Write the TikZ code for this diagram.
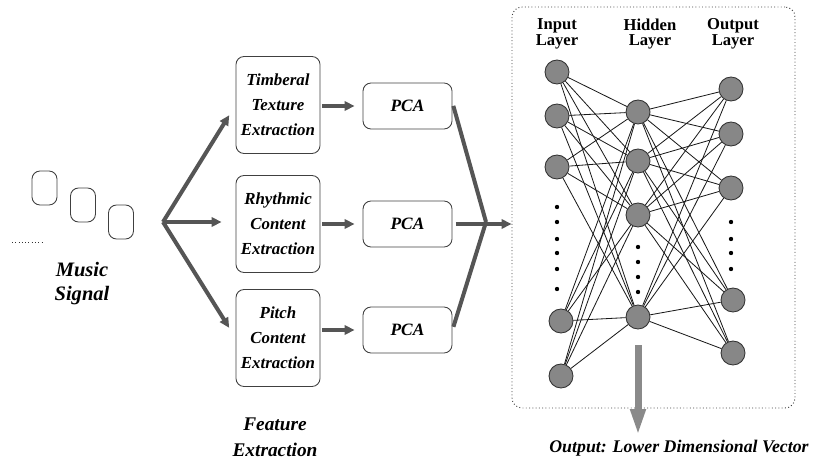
\documentclass[tikz,border=0pt]{standalone}
\usepackage{fontspec}
\setmainfont{Liberation Serif}
\usetikzlibrary{arrows.meta}
\definecolor{arrowgray}{HTML}{555555}
\definecolor{nodegray}{HTML}{878787}
\definecolor{outgray}{HTML}{8A8A8A}
\begin{document}
\begin{tikzpicture}[x=0.3mm,y=-0.3mm,
    frame/.style={draw=black!75,line width=0.75pt,rounded corners=2.4mm,minimum width=7.5mm,minimum height=10.2mm,inner sep=0pt},
    featbox/.style={draw=black!75,line width=0.75pt,rounded corners=2.4mm,minimum width=25.2mm,minimum height=29.1mm,inner sep=0pt,
        align=center,font=\fontsize{14.4}{21.3}\selectfont\bfseries\itshape},
    pcabox/.style={draw=black!75,line width=0.75pt,rounded corners=2.4mm,minimum width=26.7mm,minimum height=13.8mm,inner sep=0pt,
        font=\fontsize{14.8}{17}\selectfont\bfseries\itshape},
    fatarrow/.style={draw=arrowgray,line width=1.2mm,-{Triangle[length=3mm,width=2.8mm]}},
    fatline/.style={draw=arrowgray,line width=1.2mm},
    neuron/.style={circle,draw=black!80,fill=nodegray,minimum size=7.2mm,inner sep=0pt,line width=0.75pt},
    synapse/.style={black!90,line width=0.7pt},
    layer/.style={align=center,font=\fontsize{14.2}{13.6}\selectfont\bfseries},
    caption/.style={align=center,font=\fontsize{16.5}{22}\selectfont\bfseries\itshape}]
\useasboundingbox (0,0) rectangle (813,466);

% music signal
\node[frame] (sig1) at (44.5,188) {};
\node[frame] (sig2) at (83,205) {};
\node[frame] (sig3) at (121,222) {};
\draw[black!80,dotted,line width=0.8pt] (12,242) -- (43,242);
\node[align=center,font=\fontsize{17.5}{20.4}\selectfont\bfseries\itshape] (music) at (82,284) {Music\\Signal};
\coordinate (fan) at (163,222);

% feature extraction
\node[featbox] (feat1) at (278,105) {Timberal\\Texture\\Extraction};
\node[featbox] (feat2) at (278,224) {Rhythmic\\Content\\Extraction};
\node[featbox] (feat3) at (278,338) {Pitch\\Content\\Extraction};
\node[pcabox] (pca1) at (407.5,106) {PCA};
\node[pcabox] (pca2) at (407.5,224) {PCA};
\node[pcabox] (pca3) at (407.5,330) {PCA};
\node[caption] (featcap) at (275,437) {Feature\\Extraction};

\draw[fatarrow,shorten >=3.6mm] (fan) -- (feat1.west);
\draw[fatarrow,shorten >=4.2mm] (fan) -- (fan -| feat2.west);
\draw[fatarrow,shorten >=3.6mm] (fan) -- (feat3.west);
\foreach \k in {1,2,3}
    \draw[fatarrow,shorten <=0.6mm,shorten >=2.4mm] (feat\k.east |- pca\k.west) -- (pca\k.west);

% network box
\node[draw=black!75,dotted,line width=0.8pt,rounded corners=3mm,minimum width=84.9mm,minimum height=120.3mm] (net) at (653.5,207.5) {};
\coordinate (merge) at (486,222);
\draw[fatline,shorten <=1mm] ([yshift=1mm]pca1.east) -- (merge);
\draw[fatline,shorten <=1mm] (pca3.east) -- (merge);
\draw[fatarrow,shorten <=1mm] (pca2.east) -- (pca2.east -| net.west);

\node[layer] (inlbl) at (557,34) {Input\\Layer};
\node[layer] (hidlbl) at (650,34) {Hidden\\Layer};
\node[layer] (outlbl) at (733,34) {Output\\Layer};

\foreach \n/\x/\y in {1/557/72,2/557/116,3/557/167,4/561/321,5/561/376}
    \node[neuron] (in\n) at (\x,\y) {};
\foreach \n/\x/\y in {1/638/112,2/638/161,3/638/215,4/638/317}
    \node[neuron] (hid\n) at (\x,\y) {};
\foreach \n/\x/\y in {1/731/89,2/731/134,3/731/188,4/733/300,5/733/353}
    \node[neuron] (out\n) at (\x,\y) {};

\foreach \i in {1,...,5}
    \foreach \j in {1,...,4}
        \draw[synapse] (in\i) -- (hid\j);
\foreach \j in {1,...,4}
    \foreach \k in {1,...,5}
        \draw[synapse] (hid\j) -- (out\k);

\foreach \y in {207,222,239,253,269,289} \fill (557,\y) circle[radius=0.65mm];
\foreach \y in {247,262,277,292} \fill (638,\y) circle[radius=0.65mm];
\foreach \y in {222,239,253,269} \fill (731,\y) circle[radius=0.65mm];

% output
\node[font=\fontsize{15.2}{18}\selectfont\bfseries\itshape] (vec) at (679,448) {Output: Lower Dimensional Vector};
\draw[outgray,line width=2.1mm,-{Triangle[length=8mm,width=4.2mm]},shorten <=4.8mm] (hid4.south) -- (hid4.south |- vec.north);
\end{tikzpicture}
\end{document}
